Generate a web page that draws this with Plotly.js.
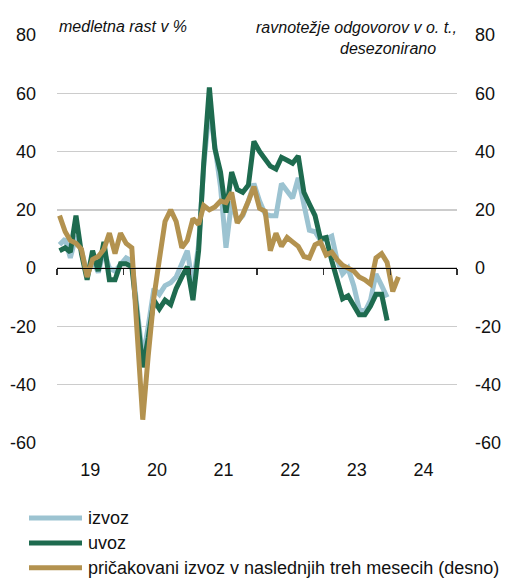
<!DOCTYPE html>
<html>
<head>
<meta charset="utf-8">
<script src="https://cdn.plot.ly/plotly-3.0.1.min.js"></script>
<style>
html,body{margin:0;padding:0;background:#fff;}
#chart{width:505px;height:580px;}
</style>
</head>
<body>
<div id="chart"></div>
<script>
// ---- data (monthly, from January 2019) ----
const startYear = 2019;
const izvoz = [
  8, 10, 3.5, 11, 6, -2, 3, -1.5, 6, 0, -1, 1.5,
  3.5, 2.5, -13, -31, -20, -7, -9, -6, -5, -3, 1.5, 6,
  -6, 8, 35, 55, 42, 28, 7, 23, 16, 18, 23, 29,
  23, 18.5, 18, 18, 29, 26.5, 24, 31, 21, 13, 12.5, 9.5,
  10, 11, 3, -2, 0, -6, -14, -15, -11, -2, -6, -10
];
const uvoz = [
  6, 7, 5.5, 18, 5, -4, 6, -1, 9, -4, -4, 1.5,
  1.5, 0.5, -16, -34, -24, -11, -14, -11, -12.5, -7, -3, 0.5,
  -11, 6, 36, 62, 41, 33, 19, 33, 27, 26, 28.5, 43.5,
  40, 37, 35, 34, 38, 37, 36, 38.5, 26, 22, 18, 10,
  10.5, 2.5, -4, -10.5, -9.5, -13, -16, -16, -13, -9, -9, -18
];
const pricakovaniIzvoz = [
  18, 12.5, 9.5, 8.5, 6.5, -3, 3, 4, 6.5, 12, 5, 12,
  8.5, 7, -22, -52, -30, -10, 3, 16, 20, 16, 7, 9.5,
  17, 15, 21.5, 20, 21, 23, 22.5, 26, 15.5, 18.5, 23, 28,
  20.5, 19.5, 6, 12, 7.5, 10.5, 9, 7.5, 4, 3.5, 8, 9,
  4.5, 5.5, 3, 1, 0, -1, -3, -4, -5.5, 3.5, 5, 2,
  -8, -3
];
const seriesNames = ['izvoz', 'uvoz', 'pričakovani izvoz v naslednjih treh mesecih (desno)'];
const seriesColors = ['#9cc3d1', '#1e6b4f', '#b3924f'];
const yearLabels = ['19', '20', '21', '22', '23', '24'];
const yTicks = [-60, -40, -20, 0, 20, 40, 60, 80];
const yTickText = ['-60', '-40', '-20', '0', '20', '40', '60', '80'];
const leftUnit = 'medletna rast v %';
const rightUnit1 = 'ravnotežje odgovorov v o. t.,';
const rightUnit2 = 'desezonirano';

// month dates (mid-month)
function monthDates(n) {
  const out = [];
  for (let i = 0; i < n; i++) {
    const y = startYear + Math.floor(i / 12);
    const m = (i % 12) + 1;
    out.push(y + '-' + String(m).padStart(2, '0') + '-15');
  }
  return out;
}
const yearMid = yearLabels.map((_, k) => (startYear + k) + '-07-02');
const yearBounds = [];
for (let k = 0; k <= yearLabels.length; k++) yearBounds.push((startYear + k) + '-01-01');
const xRange = [startYear + '-01-01', (startYear + yearLabels.length) + '-01-01'];

const FONT = 'Liberation Sans Narrow, Arial Narrow, Liberation Sans, Arial, sans-serif';

const traces = [
  {x: monthDates(izvoz.length), y: izvoz, name: seriesNames[0], type: 'scatter', mode: 'lines',
   line: {color: seriesColors[0], width: 5}, xaxis: 'x', yaxis: 'y', showlegend: false},
  {x: monthDates(uvoz.length), y: uvoz, name: seriesNames[1], type: 'scatter', mode: 'lines',
   line: {color: seriesColors[1], width: 5}, xaxis: 'x', yaxis: 'y', showlegend: false},
  {x: monthDates(pricakovaniIzvoz.length), y: pricakovaniIzvoz, name: seriesNames[2], type: 'scatter', mode: 'lines',
   line: {color: seriesColors[2], width: 5}, xaxis: 'x', yaxis: 'y2', showlegend: false}
];

// manual legend (long line samples)
const legendY = [-0.184, -0.245, -0.306];
const shapes = [];
const annotations = [];
seriesNames.forEach((n, k) => {
  shapes.push({type: 'line', xref: 'paper', yref: 'paper', x0: -0.07, x1: 0.0625, y0: legendY[k], y1: legendY[k],
    line: {color: seriesColors[k], width: 5}});
  annotations.push({xref: 'paper', yref: 'paper', x: 0.0725, y: legendY[k], xanchor: 'left', yanchor: 'middle',
    text: n, showarrow: false, font: {family: FONT, size: 18, color: '#111'}});
});
annotations.push({xref: 'paper', yref: 'paper', x: 0, y: 1.021, xanchor: 'left', yanchor: 'middle',
  text: '<i>' + leftUnit + '</i>', showarrow: false, font: {family: FONT, size: 16, color: '#111'}});
annotations.push({xref: 'paper', yref: 'paper', x: 1.004, y: 1.019, xanchor: 'right', yanchor: 'middle',
  text: '<i>' + rightUnit1 + '</i>', showarrow: false, font: {family: FONT, size: 16, color: '#111'}});
annotations.push({xref: 'paper', yref: 'paper', x: 0.952, y: 0.968, xanchor: 'right', yanchor: 'middle',
  text: '<i>' + rightUnit2 + '</i>', showarrow: false, font: {family: FONT, size: 16, color: '#111'}});

const layout = {
  width: 505, height: 580,
  margin: {l: 57, r: 48, t: 35, b: 137},
  paper_bgcolor: '#fff', plot_bgcolor: '#fff',
  font: {family: FONT, size: 18, color: '#111'},
  showlegend: false,
  xaxis: {type: 'date', range: xRange, tickvals: yearMid, ticktext: yearLabels,
    showgrid: false, zeroline: false, showline: false, ticks: '', ticklabelstandoff: 14,
    tickfont: {family: FONT, size: 18, color: '#111'}, fixedrange: true},
  xaxis2: {type: 'date', range: xRange, overlaying: 'x', anchor: 'free', position: 60 / 140,
    tickvals: yearBounds, showticklabels: false, showgrid: false, zeroline: false,
    showline: true, linecolor: '#000', linewidth: 1, ticks: 'outside', ticklen: 6, tickwidth: 1.2, tickcolor: '#333'},
  yaxis: {range: [-60, 80], tickvals: yTicks, ticktext: yTickText, showgrid: true, gridcolor: '#cccccc', gridwidth: 1.5,
    zeroline: false, showline: false, ticks: '', ticklabelstandoff: 20,
    tickfont: {family: FONT, size: 18, color: '#111'}},
  yaxis2: {range: [-60, 80], tickvals: yTicks, ticktext: yTickText, overlaying: 'y', side: 'right', showgrid: false,
    zeroline: false, showline: false, ticks: '', ticklabelstandoff: 17,
    tickfont: {family: FONT, size: 18, color: '#111'}},
  shapes: shapes,
  annotations: annotations
};

// empty helper trace so the zero-line axis (xaxis2) is drawn
traces.unshift({x: xRange, y: [null, null], xaxis: 'x2', yaxis: 'y', type: 'scatter', mode: 'lines',
  hoverinfo: 'skip', showlegend: false});

Plotly.newPlot('chart', traces, layout, {staticPlot: true, displayModeBar: false});
</script>
</body>
</html>
